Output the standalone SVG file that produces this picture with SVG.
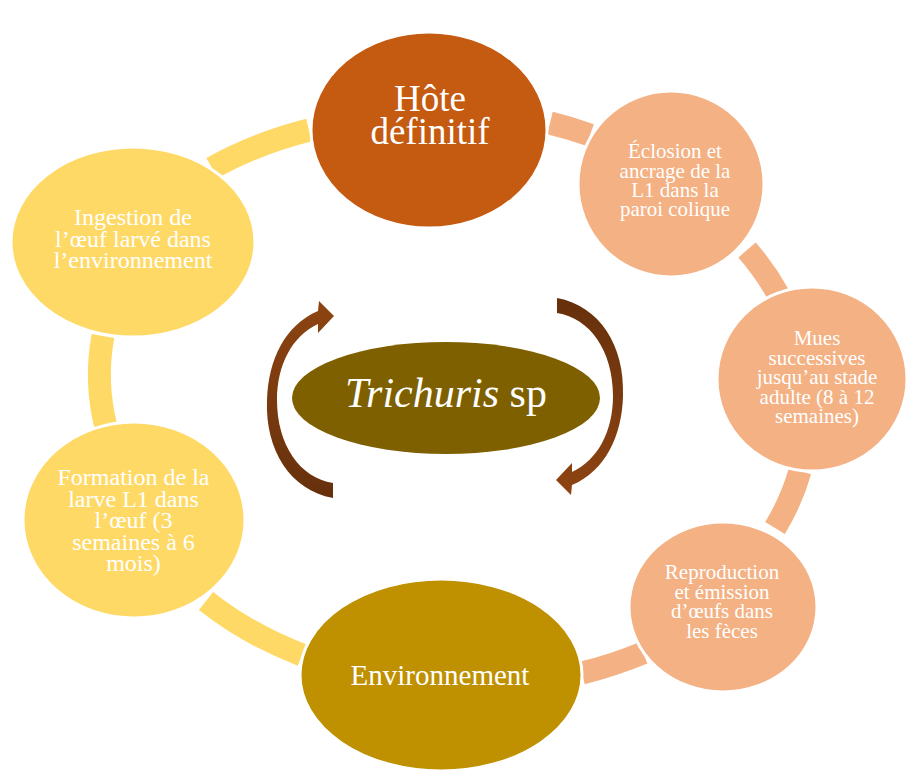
<svg xmlns="http://www.w3.org/2000/svg" width="907" height="772" viewBox="0 0 907 772">
<defs>
<style>
.seg{fill:none;stroke-width:23;stroke-linecap:butt}
.y{stroke:#FFD966}
.s{stroke:#F4B183}
.node{stroke:#FFFFFF;stroke-width:3}
.t{font-family:"Liberation Serif","Times New Roman",serif;fill:#FFFFFF;text-anchor:middle}
</style>
<linearGradient id="gL" x1="0" y1="1" x2="0" y2="0">
<stop offset="0" stop-color="#66300C"/>
<stop offset="1" stop-color="#8E4412"/>
</linearGradient>
<linearGradient id="gR" x1="0" y1="0" x2="0" y2="1">
<stop offset="0" stop-color="#66300C"/>
<stop offset="1" stop-color="#8E4412"/>
</linearGradient>
</defs>
<rect width="907" height="772" fill="#FFFFFF"/>
<g id="connectors">
<path class="seg y" d="M 212 168 A 355 272 0 0 1 309 130"/>
<path class="seg s" d="M 550 123 A 355 272 0 0 1 590 135"/>
<path class="seg s" d="M 747 250 A 355 272 0 0 1 778 294"/>
<path class="seg s" d="M 800 471 A 355 272 0 0 1 775 528"/>
<path class="seg s" d="M 643 653 A 355 272 0 0 1 582 673"/>
<path class="seg y" d="M 302 655 A 355 272 0 0 1 206 601"/>
<path class="seg y" d="M 106 427 A 355 272 0 0 1 103 336"/>
<path id="arrow-left" fill="url(#gL)" d="M 333 498 C 290 490 265 450 267 400 C 268 360 285 325 318 311 L 319 301 L 334 316 L 318 333 L 318 324 C 292 336 277 365 277 400 C 277 445 300 478 333 483 Z"/>
<path id="arrow-right" fill="url(#gR)" d="M 557 298 C 600 306 625 346 623 396 C 622 436 605 471 572 485 L 571 495 L 556 480 L 572 463 L 572 472 C 598 460 613 431 613 396 C 613 351 590 318 557 313 Z"/>
</g>
<g id="hote">
<ellipse class="node" cx="429" cy="130" rx="118" ry="98" fill="#C55A11"/>
<text class="t" font-size="37"><tspan x="430" y="111">Hôte</tspan><tspan x="430" y="144">définitif</tspan></text>
</g>
<g id="eclosion">
<circle class="node" cx="671" cy="184" r="93" fill="#F4B183"/>
<text class="t" font-size="21"><tspan x="675" y="158">Éclosion et</tspan><tspan x="675" y="177.5">ancrage de la</tspan><tspan x="675" y="197">L1 dans la</tspan><tspan x="675" y="216">paroi colique</tspan></text>
</g>
<g id="mues">
<ellipse class="node" cx="812" cy="379" rx="95" ry="92" fill="#F4B183"/>
<text class="t" font-size="21"><tspan x="817" y="345">Mues</tspan><tspan x="817" y="364.5">successives</tspan><tspan x="817" y="384">jusqu’au stade</tspan><tspan x="817" y="403.5">adulte (8 à 12</tspan><tspan x="817" y="423">semaines)</tspan></text>
</g>
<g id="reproduction">
<ellipse class="node" cx="723" cy="607" rx="94" ry="85" fill="#F4B183"/>
<text class="t" font-size="21"><tspan x="722" y="579">Reproduction</tspan><tspan x="722" y="598.5">et émission</tspan><tspan x="722" y="618">d’œufs dans</tspan><tspan x="722" y="637.5">les fèces</tspan></text>
</g>
<g id="environnement">
<ellipse class="node" cx="441" cy="675" rx="141" ry="96" fill="#BF9000"/>
<text class="t" font-size="29" x="440" y="685">Environnement</text>
</g>
<g id="formation">
<ellipse class="node" cx="134" cy="520" rx="111" ry="98" fill="#FFD966"/>
<text class="t" font-size="24"><tspan x="133.5" y="485">Formation de la</tspan><tspan x="133.5" y="506.5">larve L1 dans</tspan><tspan x="133.5" y="528">l’œuf (3</tspan><tspan x="133.5" y="549.5">semaines à 6</tspan><tspan x="133.5" y="571">mois)</tspan></text>
</g>
<g id="ingestion">
<ellipse class="node" cx="133" cy="242" rx="122" ry="95" fill="#FFD966"/>
<text class="t" font-size="24"><tspan x="133" y="225">Ingestion de</tspan><tspan x="133" y="246.5">l’œuf larvé dans</tspan><tspan x="133" y="268">l’environnement</tspan></text>
</g>
<g id="trichuris">
<ellipse cx="446" cy="398" rx="154" ry="56" fill="#7F6000"/>
<text class="t" font-size="42" x="446" y="407"><tspan font-style="italic">Trichuris</tspan> sp</text>
</g>
</svg>
